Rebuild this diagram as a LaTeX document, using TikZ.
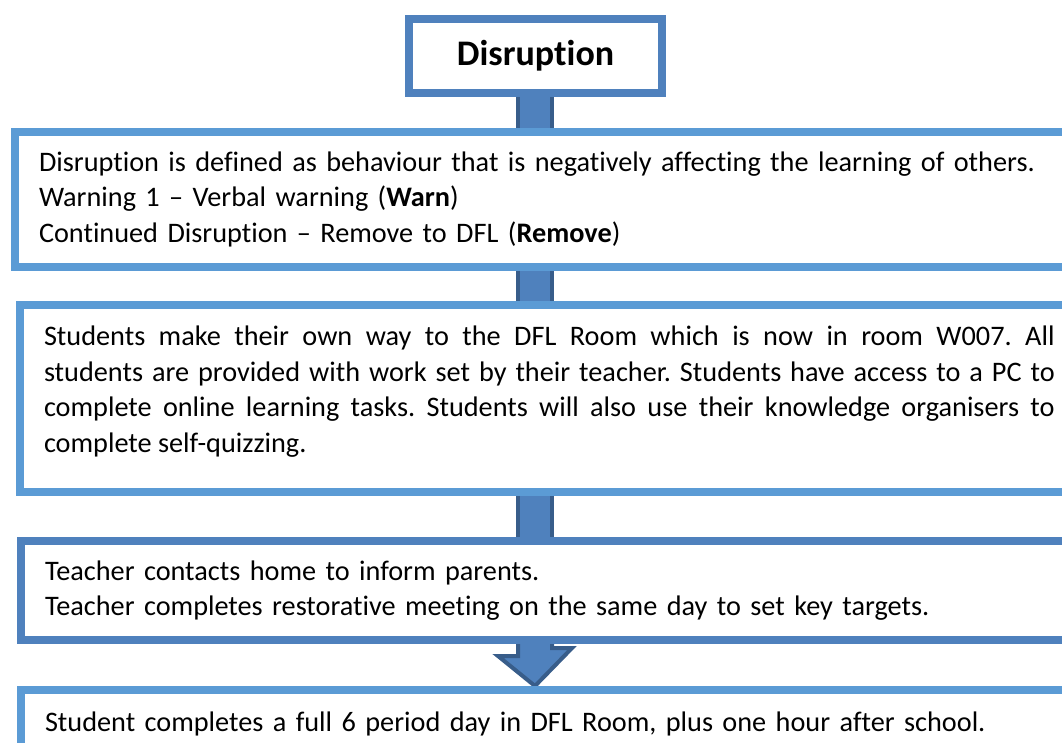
\documentclass[tikz,border=0pt]{standalone}
\usepackage{fontspec}
\setmainfont{Carlito}[Ligatures=NoCommon]
\usetikzlibrary{positioning, calc}
\definecolor{lineblue}{HTML}{5B9BD5}
\definecolor{midblue}{HTML}{4F81BD}
\definecolor{darkblue}{HTML}{385D8A}
\pgfdeclarelayer{back}
\pgfsetlayers{back,main}
\frenchspacing

\begin{document}
\begin{tikzpicture}[x=0.75pt, y=-0.75pt,
  box/.style={draw=lineblue, line width=6pt, fill=white, anchor=north west,
              inner xsep=18pt, inner ysep=0pt, text width=758pt,
              align=left, font=\fontsize{21.2}{26.6}\selectfont},
  title/.style={draw=midblue, line width=6pt, fill=white, minimum width=189.75pt,
                minimum height=55.5pt, inner sep=0pt, font=\fontsize{27}{32}\selectfont\bfseries},
  link/.style={draw=darkblue, line width=3pt, double=midblue, double distance=22.5pt},
  blockarrow/.style={draw=darkblue, line width=3pt, fill=midblue, line join=miter}
]
\useasboundingbox (0,0) rectangle (1062,742);
\clip (0,0) rectangle (1062,742);
\coordinate (ax) at (535,0);
%% BOXES
\node[title] (disr) at (535.5,56) {Disruption};
\node[box, minimum height=101.25pt] (def) at (11,127.5)
  {Disruption is defined as behaviour that is negatively affecting the learning of others.\\
   Warning 1 – Verbal warning (\textbf{Warn})\\
   Continued Disruption – Remove to DFL (\textbf{Remove})};
\node[box, align=justify, minimum height=140.6pt, text height=4pt] (dfl) at (16,301)
  {Students make their own way to the DFL Room which is now in room W007. All\linebreak
   students are provided with work set by their teacher. Students have access to a PC to\linebreak
   complete online learning tasks. Students will also use their knowledge organisers to\linebreak
   complete self-quizzing.};
\node[box, draw=midblue, minimum height=74.25pt] (home) at (17,537)
  {Teacher contacts home to inform parents.\\
   Teacher completes restorative meeting on the same day to set key targets.};
\node[box, minimum height=51pt] (day) at (17,686)
  {Student completes a full 6 period day in DFL Room, plus one hour after school.};
%% CONNECTORS
\begin{pgfonlayer}{back}
\draw[link] (ax |- disr.south) -- (ax |- def.north);
\draw[link] (ax |- def.south) -- (ax |- dfl.north);
\draw[link] (ax |- dfl.south) -- (ax |- home.north);
\draw[blockarrow] (ax |- home.south) ++(-17,-4) -- ++(0,16) -- ++(-20,0)
  -- (ax |- day.north) -- ++(37,-38) -- ++(-20,0) -- ++(0,-16) -- cycle;
\end{pgfonlayer}
\end{tikzpicture}
\end{document}
